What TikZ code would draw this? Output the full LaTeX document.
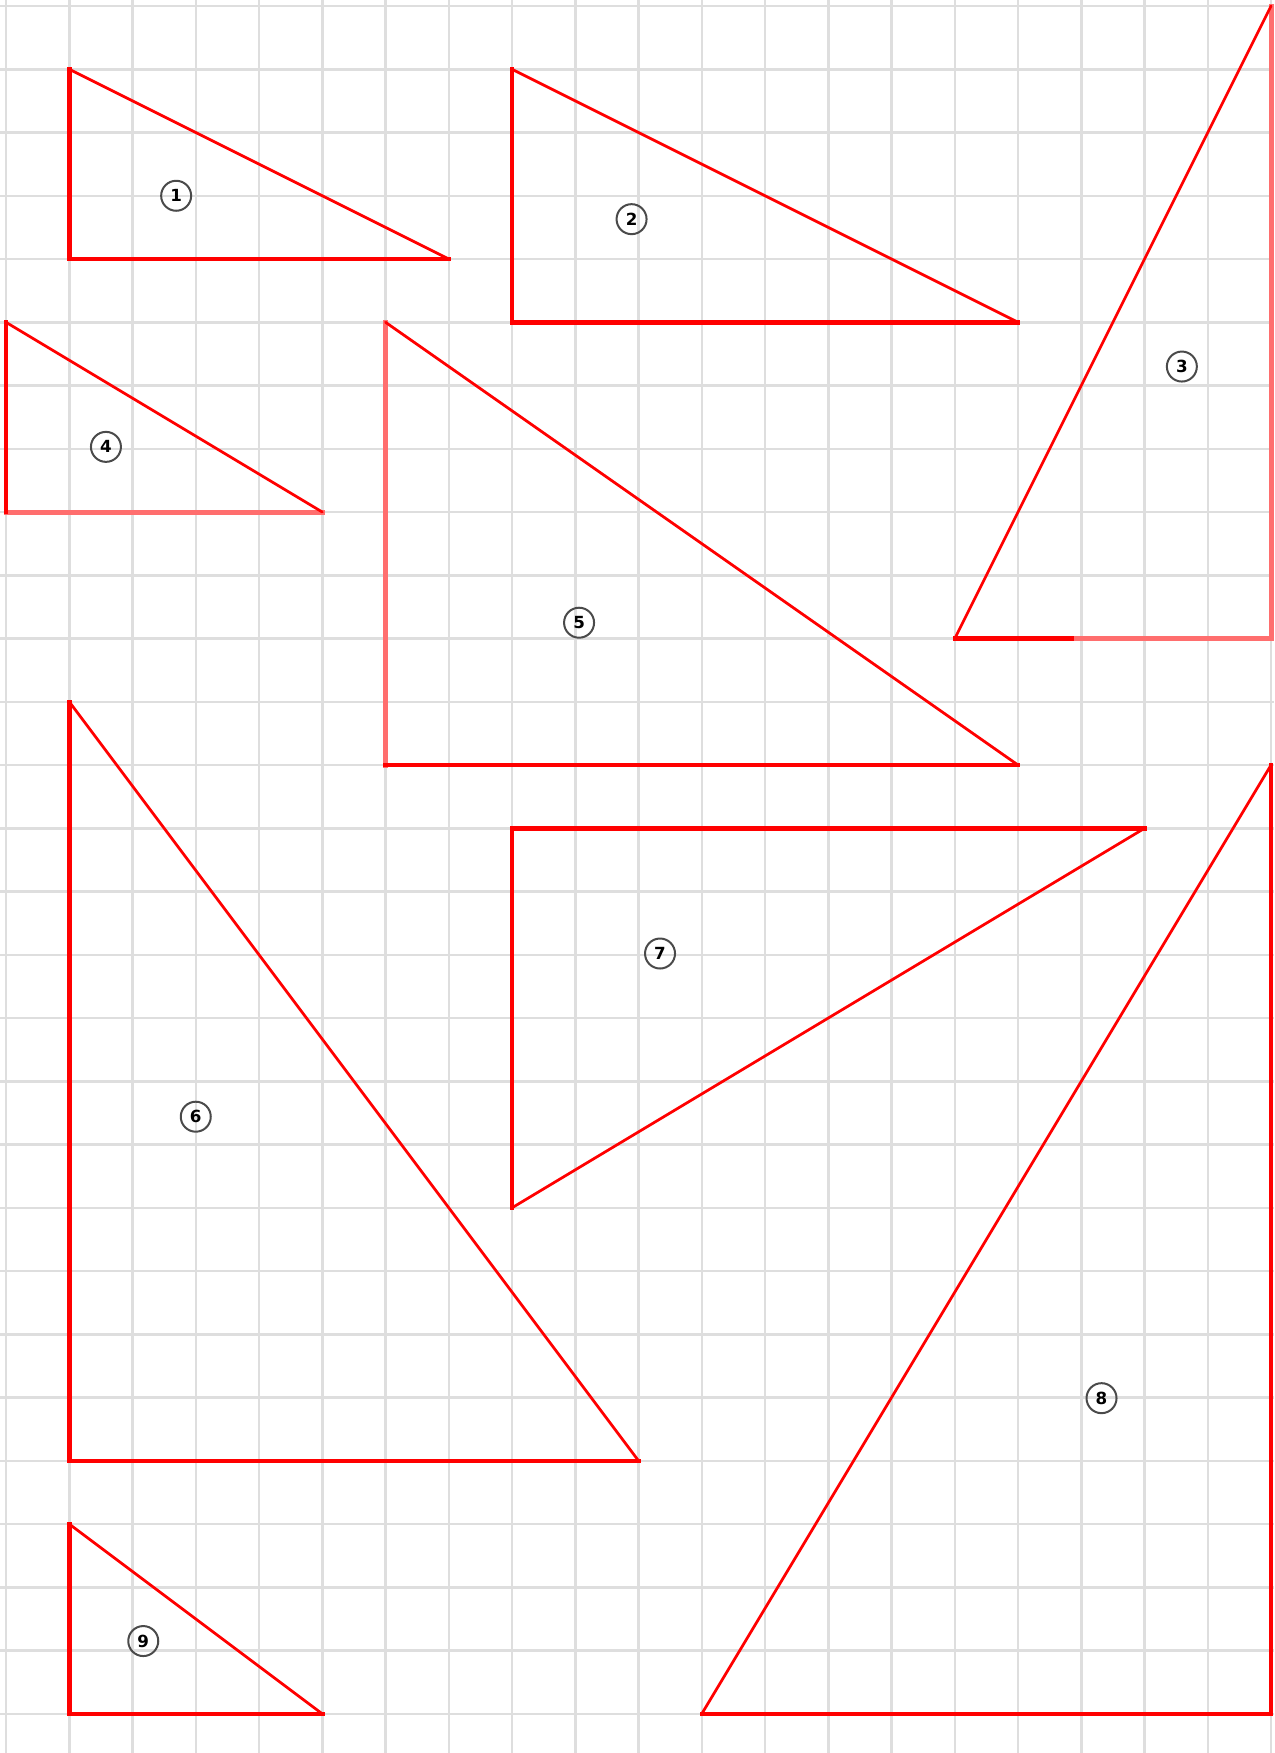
\documentclass[tikz,border=0pt]{standalone}
\usepackage{fontspec}
\newfontfamily\labelfont{DejaVu Sans}
\definecolor{gridgray}{HTML}{DEDEDE}
\definecolor{lightred}{HTML}{FF6E6E}
\definecolor{labelgray}{HTML}{4A4A4A}
\begin{document}
\begin{tikzpicture}[x=1.265cm,y=-1.265cm,
  gridline/.style={draw=gridgray,line width=0.05cm},
  leg/.style={draw=red,line width=0.09cm,line join=miter,line cap=rect},
  lightleg/.style={draw=lightred,line width=0.1cm,line cap=rect},
  hyp/.style={draw=red,line width=0.055cm,line cap=round},
  lbl/.style={circle,draw=labelgray,line width=0.04cm,minimum size=0.6cm,inner sep=0pt,font=\labelfont\bfseries\fontsize{9.5}{10}\selectfont}]
\fill[white] (-0.095,-0.095) rectangle (20.047,27.62);
\useasboundingbox (-0.095,-0.095) rectangle (20.047,27.62);
% grid
\foreach \i in {0,...,20} \draw[gridline] (\i,-0.095) -- (\i,27.62);
\foreach \j in {0,...,27} \draw[gridline] (-0.095,\j) -- (20.047,\j);
% vertices
\coordinate (a1) at (1,1); \coordinate (b1) at (1,4); \coordinate (c1) at (7,4);
\coordinate (a2) at (8,1); \coordinate (b2) at (8,5); \coordinate (c2) at (16,5);
\coordinate (a3) at (20,0); \coordinate (b3) at (15,10); \coordinate (m3) at (16.85,10); \coordinate (c3) at (20,10);
\coordinate (a4) at (0,5); \coordinate (b4) at (0,8); \coordinate (c4) at (5,8);
\coordinate (a5) at (6,5); \coordinate (b5) at (6,12); \coordinate (c5) at (16,12);
\coordinate (a6) at (1,11); \coordinate (b6) at (1,23); \coordinate (c6) at (10,23);
\coordinate (a7) at (18,13); \coordinate (b7) at (8,13); \coordinate (c7) at (8,19);
\coordinate (a8) at (20,12); \coordinate (b8) at (11,27); \coordinate (c8) at (20,27);
\coordinate (a9) at (1,24); \coordinate (b9) at (1,27); \coordinate (c9) at (5,27);
% triangle 1
\draw[leg] (a1) -- (b1) -- (c1);
\draw[hyp] (a1) -- (c1);
% triangle 2
\draw[leg] (a2) -- (b2) -- (c2);
\draw[hyp] (a2) -- (c2);
% triangle 3
\draw[lightleg] (m3) -- (c3) -- (a3);
\draw[leg] (b3) -- (m3);
\draw[hyp] (a3) -- (b3);
% triangle 4
\draw[lightleg] (b4) -- (c4);
\draw[leg] (a4) -- (b4);
\draw[hyp] (a4) -- (c4);
% triangle 5
\draw[lightleg] (a5) -- (b5);
\draw[leg] (b5) -- (c5);
\draw[hyp] (a5) -- (c5);
% triangle 6
\draw[leg] (a6) -- (b6) -- (c6);
\draw[hyp] (a6) -- (c6);
% triangle 7
\draw[leg] (a7) -- (b7) -- (c7);
\draw[hyp] (a7) -- (c7);
% triangle 8
\draw[leg] (b8) -- (c8) -- (a8);
\draw[hyp] (a8) -- (b8);
% triangle 9
\draw[leg] (a9) -- (b9) -- (c9);
\draw[hyp] (a9) -- (c9);
% labels
\node[lbl] (l1) at (2.69,3.0) {1};
\node[lbl] (l2) at (9.89,3.37) {2};
\node[lbl] (l3) at (18.59,5.70) {3};
\node[lbl] (l4) at (1.58,6.97) {4};
\node[lbl] (l5) at (9.06,9.75) {5};
\node[lbl] (l6) at (3.0,17.56) {6};
\node[lbl] (l7) at (10.34,14.98) {7};
\node[lbl] (l8) at (17.32,22.01) {8};
\node[lbl] (l9) at (2.17,25.85) {9};
\end{tikzpicture}
\end{document}
